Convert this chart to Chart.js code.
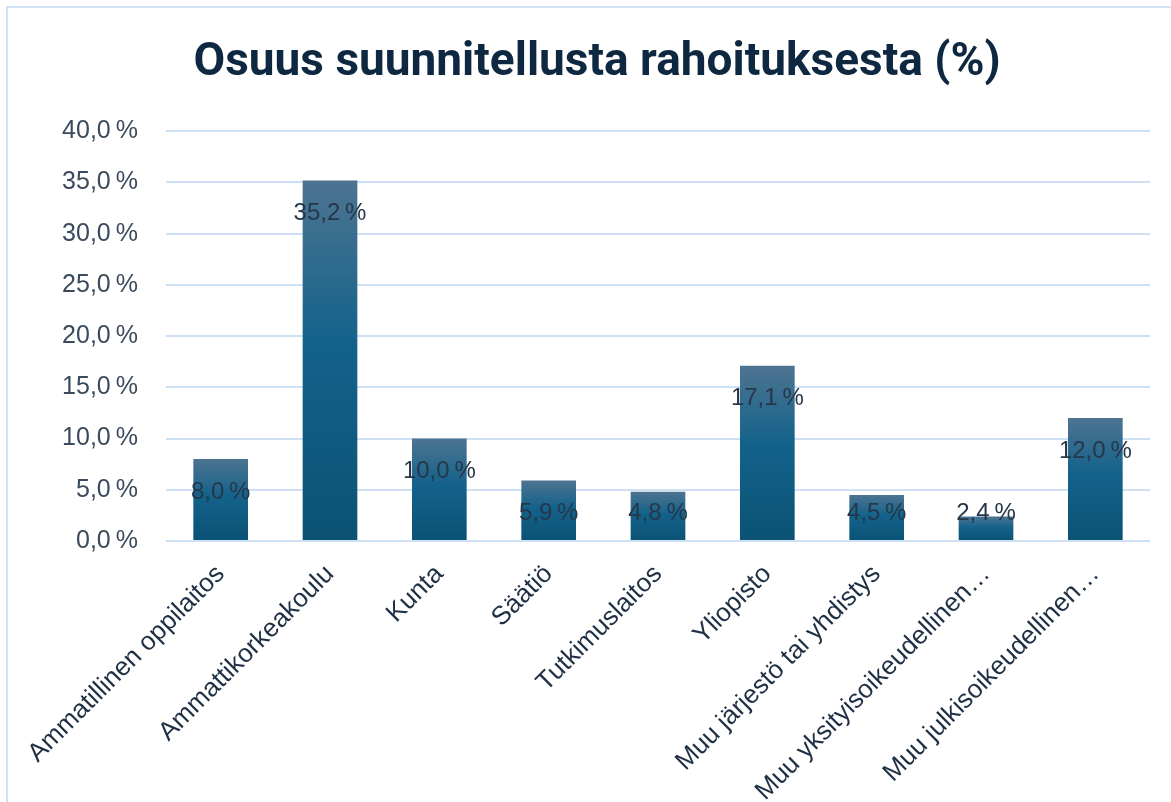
<!DOCTYPE html>
<html>
<head>
<meta charset="utf-8">
<script src="https://cdn.jsdelivr.net/npm/chart.js@4"></script>
<style>
    html, body { margin: 0; padding: 0; background: #fff; }
    #wrap { position: absolute; left: 0; top: 0; width: 1171px; height: 802px; }
    #frame { position: absolute; left: 6px; top: 6px; width: 1200px; height: 900px; border: 2px solid #d3e3f5; box-sizing: border-box; }
    canvas { position: absolute; left: 0; top: 0; }
</style>
</head>
<body>
<div id="wrap">
    <div id="frame"></div>
    <canvas id="chart" width="1171" height="802"></canvas>
</div>
<script>
var categories = [
    'Ammatillinen oppilaitos',
    'Ammattikorkeakoulu',
    'Kunta',
    'Säätiö',
    'Tutkimuslaitos',
    'Yliopisto',
    'Muu järjestö tai yhdistys',
    'Muu yksityisoikeudellinen…',
    'Muu julkisoikeudellinen…'
];
var shares = [8.0, 35.2, 10.0, 5.9, 4.8, 17.1, 4.5, 2.4, 12.0];
var yTicks = [0, 5, 10, 15, 20, 25, 30, 35, 40];

function pct(v) {
    return v.toFixed(1).replace('.', ',') + '\u2009%';
}

// gradient per bar, light at the top, dark at the base
function barFill(context) {
    var chart = context.chart;
    var area = chart.chartArea;
    if (!area || context.dataIndex === undefined) return '#145f86';
    var y = chart.scales.y;
    var top = y.getPixelForValue(context.raw);
    var base = y.getPixelForValue(0);
    var g = chart.ctx.createLinearGradient(0, top, 0, base);
    g.addColorStop(0, '#4d7491');
    g.addColorStop(0.45, '#13628b');
    g.addColorStop(1, '#0b5274');
    return g;
}

// value labels: a bit below the bar top, never lower than near the base
var valueLabels = {
    id: 'valueLabels',
    afterDatasetsDraw: function (chart) {
        var ctx = chart.ctx;
        var meta = chart.getDatasetMeta(0);
        var base = chart.scales.y.getPixelForValue(0);
        ctx.save();
        ctx.font = '24px "Liberation Sans", Arial, sans-serif';
        ctx.fillStyle = '#26374a';
        ctx.textAlign = 'center';
        ctx.textBaseline = 'middle';
        meta.data.forEach(function (bar, i) {
            var y = Math.min(bar.y + 33, base - 28);
            ctx.fillText(pct(shares[i]), bar.x, y);
        });
        ctx.restore();
    }
};

var ctx = document.getElementById('chart').getContext('2d');
new Chart(ctx, {
    type: 'bar',
    data: {
        labels: categories,
        datasets: [{
            data: shares,
            backgroundColor: barFill,
            borderWidth: 0,
            barPercentage: 0.5,
            categoryPercentage: 1
        }]
    },
    options: {
        responsive: false,
        animation: false,
        layout: { padding: { left: 44, right: 21, bottom: 0 } },
        plugins: {
            legend: { display: false },
            tooltip: { enabled: false },
            title: {
                display: true,
                text: 'Osuus suunnitellusta rahoituksesta (%)',
                color: '#0e2841',
                font: { family: 'Roboto, sans-serif', size: 46, weight: 'bold', lineHeight: 1.2 },
                padding: { top: 36, bottom: 40 }
            }
        },
        scales: {
            y: {
                min: 0,
                max: 40,
                afterBuildTicks: function (scale) {
                    scale.ticks = yTicks.map(function (v) { return { value: v }; });
                },
                afterFit: function (scale) { scale.width = 122; },
                border: { display: false },
                grid: { color: '#cde0f4', lineWidth: 2, drawTicks: false },
                ticks: {
                    padding: 28,
                    color: '#3b4a5c',
                    font: { family: '"Liberation Sans", Arial, sans-serif', size: 25 },
                    callback: function (v) { return pct(v); }
                }
            },
            x: {
                border: { display: false },
                grid: { display: false },
                afterFit: function (scale) { scale.height = 261; },
                ticks: {
                    autoSkip: false,
                    maxRotation: 45,
                    minRotation: 45,
                    padding: 10,
                    color: '#1f3044',
                    font: { family: '"Liberation Sans", Arial, sans-serif', size: 26 }
                }
            }
        }
    },
    plugins: [valueLabels]
});
</script>
</body>
</html>
